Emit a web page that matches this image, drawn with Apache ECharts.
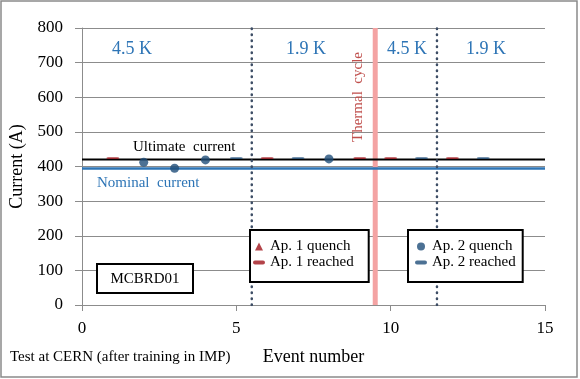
<!DOCTYPE html>
<html><head><meta charset="utf-8">
<script src="https://cdn.jsdelivr.net/npm/echarts@6/dist/echarts.min.js"></script>
<style>html,body{margin:0;padding:0;background:#fff}#c{width:580px;height:379px}</style>
</head><body><div id="c"></div>
<script>
const xTicks = [0, 5, 10, 15];
const yTicks = [0, 100, 200, 300, 400, 500, 600, 700, 800];
const ultimateCurrent = 420;
const nominalCurrent = 394;
const tempBoundaries = [5.5, 11.5];
const thermalCycle = 9.5;
const ap1Quench = [];
const ap1Reached = [[1, 424], [6, 424], [9, 424], [10, 424], [12, 424]];
const ap2Quench = [[2, 412], [3, 395], [4, 419], [8, 422]];
const ap2Reached = [[5, 424], [7, 424], [11, 424], [13, 424]];
const tempLabels = [['4.5 K', 132], ['1.9 K', 306], ['4.5 K', 407], ['1.9 K', 486]];

const FONT = 'Liberation Serif';
const RED = '#a0141b', DBLUE = '#1f4e79', BLUE = '#2e75b6', GRID = '#8c8c8c';
const DASH = 'path://M1 0H11A1 1 0 0 1 11 5H1A1 1 0 0 1 1 0Z';
const TRI = 'path://M4 0L8 8L0 8Z';

const chart = echarts.init(document.getElementById('c'));
const series = [
  { type: 'line', data: [[thermalCycle, 0], [thermalCycle, 800]], showSymbol: false, silent: true,
    lineStyle: { color: '#f4a3a3', width: 5 }, z: 1 },
  { type: 'line', data: [[0, ultimateCurrent], [15, ultimateCurrent]], showSymbol: false, silent: true,
    lineStyle: { color: '#000', width: 2 }, z: 2 },
  { type: 'line', data: [[0, nominalCurrent], [15, nominalCurrent]], showSymbol: false, silent: true,
    lineStyle: { color: BLUE, width: 2.5 }, z: 2 },
];
tempBoundaries.forEach(x => series.push({
  type: 'line', data: [[x, 0], [x, 800]], showSymbol: false, silent: true,
  lineStyle: { color: '#3e4e66', width: 2.5, type: [0.5, 5.5], cap: 'round' }, z: 3 }));
series.push(
  { name: 'Ap. 1 quench', type: 'scatter', data: ap1Quench, symbol: 'triangle', symbolSize: 9,
    itemStyle: { color: RED }, z: 5 },
  { name: 'Ap. 1 reached', type: 'scatter', data: ap1Reached, symbol: DASH, symbolSize: [13, 5],
    symbolKeepAspect: true, itemStyle: { color: RED }, z: 5 },
  { name: 'Ap. 2 quench', type: 'scatter', data: ap2Quench, symbol: 'circle', symbolSize: 9,
    itemStyle: { color: DBLUE }, z: 5 },
  { name: 'Ap. 2 reached', type: 'scatter', data: ap2Reached, symbol: DASH, symbolSize: [13, 5],
    symbolKeepAspect: true, itemStyle: { color: DBLUE }, z: 5 }
);

const legendCommon = {
  orient: 'vertical', selectedMode: false, itemWidth: 12, itemHeight: 8, itemGap: 1,
  symbolKeepAspect: true, borderColor: '#000', borderWidth: 2, backgroundColor: '#fff',
  textStyle: { fontFamily: FONT, fontSize: 15, color: '#000' }
};

const graphics = [
  { type: 'rect', shape: { x: 1, y: 1, width: 576, height: 376 }, style: { fill: null, stroke: '#8a8a8a', lineWidth: 1.5 }, z: 0, silent: true },
  { type: 'rect', shape: { x: 97, y: 264, width: 96, height: 29 }, style: { fill: '#fff', stroke: '#000', lineWidth: 2 }, z: 10 },
  { type: 'text', x: 145, y: 279, style: { text: 'MCBRD01', font: '15px ' + FONT, fill: '#000', align: 'center', verticalAlign: 'middle' }, z: 11 },
  { type: 'text', x: 133, y: 147, style: { text: 'Ultimate  current', font: '15px ' + FONT, fill: '#000', align: 'left', verticalAlign: 'middle' }, z: 11 },
  { type: 'text', x: 97, y: 183, style: { text: 'Nominal  current', font: '15px ' + FONT, fill: BLUE, align: 'left', verticalAlign: 'middle' }, z: 11 },
  { type: 'text', x: 358, y: 97, rotation: Math.PI / 2, style: { text: 'Thermal  cycle', font: '15px ' + FONT, fill: '#c0504d', align: 'center', verticalAlign: 'middle' }, z: 11 },
  { type: 'text', x: 10, y: 357, style: { text: 'Test at CERN (after training in IMP)', font: '15px ' + FONT, fill: '#000', align: 'left', verticalAlign: 'middle' }, z: 11 }
];
tempLabels.forEach(([t, x]) => graphics.push({ type: 'text', x: x, y: 49,
  style: { text: t, font: '18px ' + FONT, fill: BLUE, align: 'center', verticalAlign: 'middle' }, z: 11 }));

chart.setOption({
  backgroundColor: '#fff',
  animation: false,
  grid: { left: 80, right: 35, top: 28, bottom: 74 },
  xAxis: {
    type: 'value', min: 0, max: 15, interval: 5,
    name: 'Event number', nameLocation: 'middle', nameGap: 43,
    nameTextStyle: { fontFamily: FONT, fontSize: 18, color: '#000' },
    axisLine: { show: true, lineStyle: { color: GRID } },
    axisTick: { show: true, length: 6, lineStyle: { color: GRID } },
    axisLabel: { fontFamily: FONT, fontSize: 17, color: '#000', margin: 15 },
    splitLine: { show: false }
  },
  yAxis: {
    type: 'value', min: 0, max: 800, interval: 100,
    name: 'Current (A)', nameLocation: 'middle', nameGap: 56,
    nameTextStyle: { fontFamily: FONT, fontSize: 18, color: '#000' },
    axisLine: { show: true, lineStyle: { color: GRID } },
    axisTick: { show: true, length: 7, lineStyle: { color: GRID } },
    axisLabel: { fontFamily: FONT, fontSize: 17, color: '#000', margin: 19 },
    splitLine: { show: true, lineStyle: { color: GRID, width: 1 } }
  },
  legend: [
    Object.assign({}, legendCommon, { left: 250, top: 230, padding: [9, 15, 12, 3],
      data: [{ name: 'Ap. 1 quench', icon: TRI }, { name: 'Ap. 1 reached', icon: DASH }] }),
    Object.assign({}, legendCommon, { left: 408, top: 230, padding: [9, 7, 12, 7],
      data: [{ name: 'Ap. 2 quench' }, { name: 'Ap. 2 reached', icon: DASH }] })
  ],
  series: series,
  graphic: graphics
});
</script></body></html>
